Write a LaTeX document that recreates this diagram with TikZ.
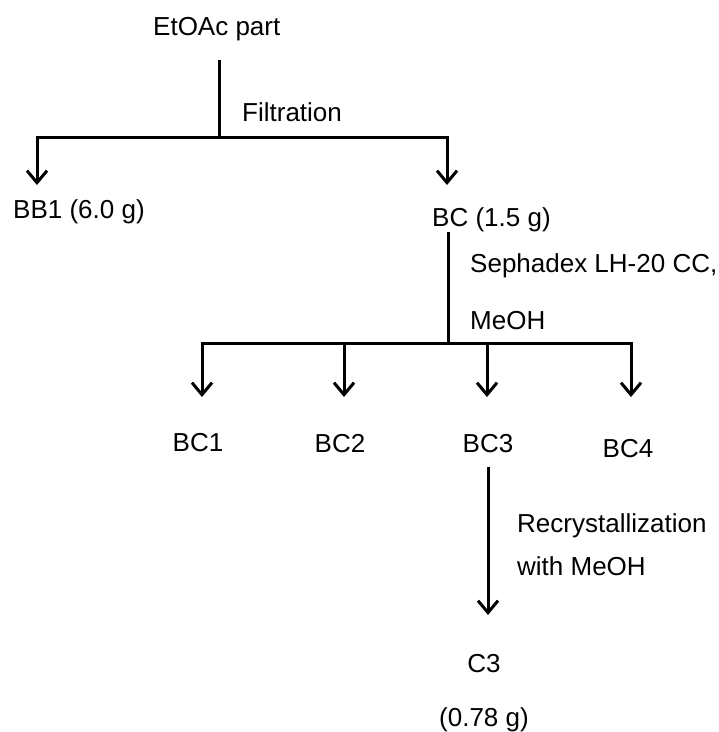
\documentclass[tikz,border=0pt]{standalone}
\usepackage{fontspec}
\setmainfont{Liberation Sans}
\usetikzlibrary{arrows.meta}

\begin{document}
\begin{tikzpicture}[x=1pt, y=-1pt,
	txt/.style={inner sep=0pt, font=\fontsize{26}{30}\selectfont},
	flow/.style={line width=3pt},
	branch/.style={flow, -{Straight Barb[length=12pt, width=20pt, line width=3pt]}}]
	\useasboundingbox (0,0) rectangle (719,732);
	\node[txt, anchor=base west] (etoac) at (153,35) {EtOAc part};
	\node[txt, anchor=base west] (filt) at (242,121) {Filtration};
	\node[txt, anchor=base west] (bb1) at (13,218) {BB1 (6.0 g)};
	\node[txt, anchor=base west] (bc) at (432,226) {BC (1.5 g)};
	\node[txt, anchor=base west] (seph) at (470,272) {Sephadex LH-20 CC,};
	\node[txt, anchor=base west] (meoh) at (470,329) {MeOH};
	\node[txt, anchor=base] (bc1) at (198,451) {BC1};
	\node[txt, anchor=base] (bc2) at (340,452) {BC2};
	\node[txt, anchor=base] (bc3) at (488,452) {BC3};
	\node[txt, anchor=base] (bc4) at (628,457) {BC4};
	\node[txt, anchor=base west] (recr) at (517,532) {Recrystallization};
	\node[txt, anchor=base west] (with) at (517,575) {with MeOH};
	\node[txt, anchor=base] (c3) at (484,672) {C3};
	\node[txt, anchor=base] (yield) at (484,726) {(0.78 g)};
	\coordinate (e1) at (219,60);
	\coordinate (j1) at (219,137);
	\coordinate (t1) at (37,185);
	\coordinate (t2) at (447,185);
	\draw[flow] (e1) -- (j1);
	\draw[branch] (j1) -| (t1);
	\draw[branch] (j1) -| (t2);
	\coordinate (s2) at (448,232);
	\coordinate (j2) at (448,343);
	\draw[flow] (s2) -- (j2);
	\foreach \x/\n in {202/1, 344/2, 487/3, 631/4}{
		\coordinate (u\n) at (\x,397);
		\draw[branch] (j2) -| (u\n);
	}
	\coordinate (s3) at (488,467);
	\coordinate (t3) at (488,615);
	\draw[branch] (s3) -- (t3);
\end{tikzpicture}
\end{document}
